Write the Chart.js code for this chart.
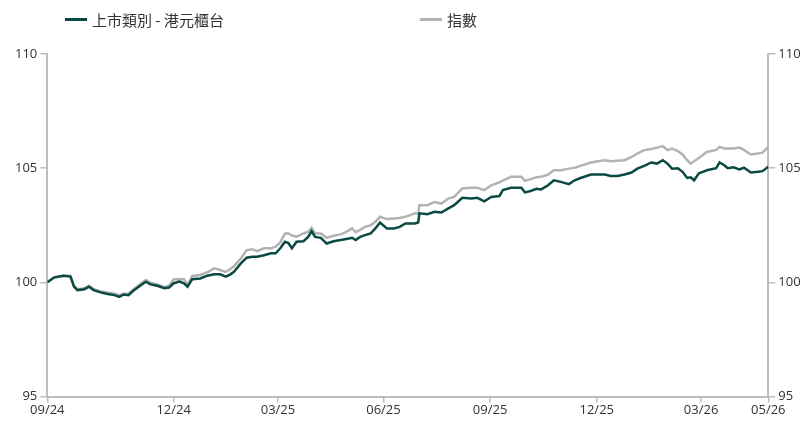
<!DOCTYPE html>
<html>
<head>
<meta charset="utf-8">
<script src="https://cdn.jsdelivr.net/npm/chart.js@4/dist/chart.umd.min.js"></script>
<style>
    body { margin: 0; background: #fff; }
    #wrap { position: relative; width: 803px; height: 423px; }
    #chart { position: absolute; left: 0; top: 0; }
    .legend { position: absolute; top: 9px; font: 15px "Noto Sans CJK TC", "Noto Sans", sans-serif; color: #333; display: flex; align-items: center; white-space: nowrap; }
    .legend i { display: inline-block; width: 22px; height: 3px; margin-right: 5px; }
</style>
</head>
<body>
<div id="wrap">
    <canvas id="chart" width="803" height="423"></canvas>
    <div class="legend" id="leg0" style="left:65px"></div>
    <div class="legend" id="leg1" style="left:420px"></div>
</div>
<script>
// days counted from 2024-09-13
const days = [
    0, 6, 14, 20, 23, 26, 32, 36, 40, 46,
    52, 58, 62, 66, 70, 75, 81, 85, 89, 95,
    101, 105, 109, 114, 118, 121, 125, 132, 138, 144,
    149, 154, 158, 161, 167, 172, 177, 181, 187, 193,
    197, 201, 205, 208, 211, 215, 221, 225, 228, 231,
    236, 241, 247, 253, 258, 263, 266, 270, 274, 279,
    283, 287, 293, 299, 304, 309, 317, 320, 321, 328,
    334, 340, 346, 351, 358, 366, 371, 377, 383, 390,
    393, 400, 409, 412, 417, 422, 426, 432, 437, 443,
    450, 455, 460, 469, 475, 481, 486, 492, 498, 504,
    509, 515, 521, 526, 531, 535, 539, 544, 548, 552,
    555, 558, 562, 569, 577, 580, 584, 587, 592, 597,
    601, 607, 613, 617, 622
];

const hkdCounter = [
    100.00, 100.22, 100.29, 100.25, 99.81, 99.66, 99.70, 99.81, 99.66, 99.56,
    99.49, 99.44, 99.36, 99.47, 99.44, 99.66, 99.88, 100.03, 99.91, 99.85,
    99.74, 99.77, 99.96, 100.03, 99.96, 99.81, 100.14, 100.17, 100.29, 100.35,
    100.35, 100.25, 100.35, 100.46, 100.83, 101.08, 101.12, 101.12, 101.19, 101.27,
    101.27, 101.49, 101.78, 101.72, 101.49, 101.78, 101.80, 101.99, 102.24, 101.99,
    101.95, 101.70, 101.80, 101.85, 101.90, 101.95, 101.85, 101.99, 102.07, 102.14,
    102.36, 102.62, 102.36, 102.36, 102.43, 102.58, 102.58, 102.62, 103.02, 102.98,
    103.09, 103.06, 103.24, 103.38, 103.70, 103.67, 103.70, 103.55, 103.74, 103.78,
    104.04, 104.14, 104.14, 103.94, 104.00, 104.10, 104.07, 104.25, 104.47, 104.40,
    104.30, 104.47, 104.57, 104.72, 104.72, 104.72, 104.66, 104.66, 104.72, 104.81,
    104.98, 105.10, 105.25, 105.20, 105.35, 105.20, 104.98, 105.00, 104.84, 104.57,
    104.60, 104.47, 104.77, 104.91, 105.00, 105.25, 105.13, 105.00, 105.04, 104.95,
    105.02, 104.81, 104.84, 104.87, 105.06
];

const indexValues = [
    100.00, 100.20, 100.30, 100.28, 99.85, 99.70, 99.74, 99.85, 99.70, 99.60,
    99.55, 99.50, 99.44, 99.50, 99.51, 99.72, 99.96, 100.10, 99.98, 99.91,
    99.79, 99.85, 100.13, 100.15, 100.14, 99.88, 100.28, 100.32, 100.44, 100.61,
    100.54, 100.46, 100.58, 100.70, 101.05, 101.41, 101.45, 101.37, 101.49, 101.49,
    101.56, 101.75, 102.14, 102.14, 102.05, 102.00, 102.14, 102.21, 102.39, 102.14,
    102.14, 101.95, 102.04, 102.10, 102.21, 102.36, 102.20, 102.30, 102.43, 102.50,
    102.65, 102.87, 102.77, 102.80, 102.82, 102.87, 103.02, 103.00, 103.38, 103.38,
    103.52, 103.45, 103.67, 103.74, 104.11, 104.14, 104.14, 104.04, 104.25, 104.38,
    104.45, 104.62, 104.62, 104.45, 104.52, 104.60, 104.62, 104.72, 104.91, 104.91,
    104.98, 105.02, 105.10, 105.25, 105.30, 105.35, 105.30, 105.33, 105.35, 105.49,
    105.64, 105.79, 105.84, 105.90, 105.97, 105.79, 105.86, 105.75, 105.60, 105.35,
    105.20, 105.30, 105.45, 105.71, 105.80, 105.93, 105.86, 105.86, 105.86, 105.90,
    105.80, 105.60, 105.64, 105.68, 105.93
];

const tickDays = [0, 109, 199, 290, 382, 474, 564, 622];
const tickLabels = ['09/24', '12/24', '03/25', '06/25', '09/25', '12/25', '03/26', '05/26'];
const yTicks = [95, 100, 105, 110];

const seriesNames = ['上市類別 - 港元櫃台', '指數'];
const seriesColors = ['#0b4a43', '#b3b3b3'];

const axisColor = '#bdbdbd';
const tickFont = { family: '"Open Sans", "Noto Sans", sans-serif', size: 13 };

function yAxis(position, width) {
    return {
        type: 'linear',
        position: position,
        min: 95,
        max: 110,
        afterBuildTicks: s => { s.ticks = yTicks.map(v => ({ value: v })); },
        afterFit: s => { s.width = width; },
        ticks: { color: '#333', font: tickFont, padding: 3 },
        grid: { drawOnChartArea: false, drawTicks: true, tickLength: 7, color: axisColor, lineWidth: 1.5 },
        border: { color: axisColor, width: 2 }
    };
}

const toPoints = vals => days.map((d, i) => ({ x: d, y: vals[i] }));

new Chart(document.getElementById('chart'), {
    type: 'line',
    data: {
        datasets: [
            { label: seriesNames[0], data: toPoints(hkdCounter), borderColor: seriesColors[0], borderWidth: 2.5, yAxisID: 'y' },
            { label: seriesNames[1], data: toPoints(indexValues), borderColor: seriesColors[1], borderWidth: 2.5, yAxisID: 'y' }
        ]
    },
    options: {
        responsive: false,
        animation: false,
        elements: { point: { radius: 0 }, line: { tension: 0 } },
        layout: { padding: { top: 54, left: 0, right: 0, bottom: 0 } },
        plugins: { legend: { display: false }, tooltip: { enabled: false } },
        scales: {
            x: {
                type: 'linear',
                min: 0,
                max: 622,
                afterBuildTicks: s => { s.ticks = tickDays.map(v => ({ value: v })); },
                afterFit: s => { s.height = 26.5; },
                ticks: {
                    color: '#333', font: tickFont, padding: 0, autoSkip: false, maxRotation: 0,
                    callback: v => tickLabels[tickDays.indexOf(v)]
                },
                grid: { drawOnChartArea: false, drawTicks: true, tickLength: 6, color: axisColor, lineWidth: 1.5 },
                border: { color: axisColor, width: 2 }
            },
            y: yAxis('left', 47.3),
            y1: yAxis('right', 34.7)
        }
    }
});

seriesNames.forEach((name, i) => {
    document.getElementById('leg' + i).innerHTML = `<i style="background:${seriesColors[i]}"></i><span>${name}</span>`;
});
</script>
</body>
</html>
